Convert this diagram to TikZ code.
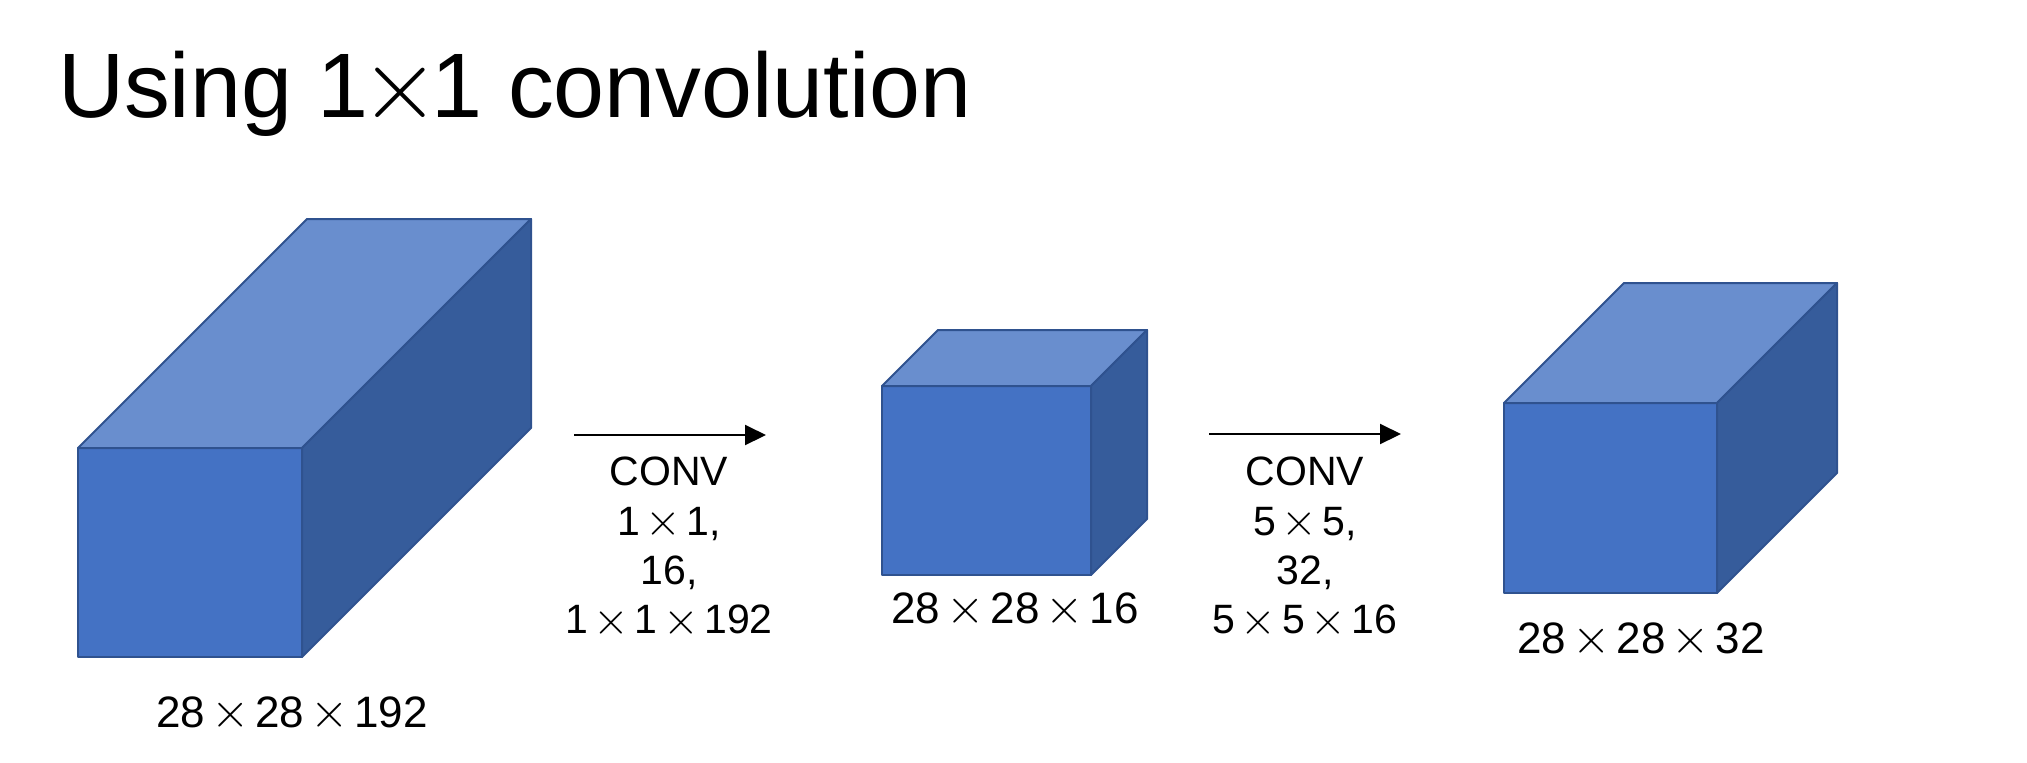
\documentclass[tikz,border=0pt]{standalone}
\usepackage{fontspec}
\setmainfont{Liberation Sans}
\newfontfamily\lmfont{lmroman10-regular}[Extension=.otf]
\usetikzlibrary{arrows.meta}

\definecolor{frontblue}{HTML}{4472C4}
\definecolor{topblue}{HTML}{698ECE}
\definecolor{sideblue}{HTML}{365C9B}
\definecolor{edgeblue}{HTML}{2F528F}

\newcommand{\tms}[1][1.14em]{\makebox[#1]{\raisebox{-0.02em}{\scalebox{1.12}{\lmfont ×}}}}

\begin{document}
\begin{tikzpicture}[x=0.5pt,y=-0.5pt]
        \tikzstyle{every path}=[line width=1pt, line join=round]

        \tikzstyle{front}=[draw=edgeblue, fill=frontblue, inner sep=0pt, outer sep=0pt, anchor=north west]
        \tikzstyle{topface}=[draw=edgeblue, fill=topblue]
        \tikzstyle{sideface}=[draw=edgeblue, fill=sideblue]
        \tikzstyle{dims}=[font=\fontsize{22}{26}\selectfont, anchor=base, inner sep=0pt]
        \tikzstyle{conv}=[font=\fontsize{20.5}{24.7}\selectfont, align=center, anchor=north, inner sep=0pt]
        \tikzstyle{flow}=[-{Triangle[length=10.5pt,width=10pt]}]

        \useasboundingbox (0,0) rectangle (2027,762);

        \node[anchor=base west, inner sep=0pt, font=\fontsize{45.8}{55}\selectfont] (title) at (57,117) {Using 1\tms[0.69em]1 convolution};

        % volumes: name / x / y / width / height / depth
        \foreach \name/\x/\y/\w/\h/\d in {in/78/448/224/209/229, mid/882/386/209/189/56, out/1504/403/213/190/120} {
            \node[front, minimum width=\w*0.5pt, minimum height=\h*0.5pt] (\name) at (\x,\y) {};
            \draw[topface] (\name.north west) -- ++(\d,-\d) -- ++(\w,0) -- (\name.north east) -- cycle;
            \draw[sideface] (\name.north east) -- ++(\d,-\d) -- ++(0,\h) -- (\name.south east) -- cycle;
        };

        \node[dims] (inlbl) at (292,727) {28\tms28\tms192};
        \node[dims] (midlbl) at (1015,623) {28\tms28\tms16};
        \node[dims] (outlbl) at (1641,653) {28\tms28\tms32};

        \coordinate (flow1s) at (574,435);
        \coordinate (flow1e) at (766,435);
        \coordinate (flow2s) at (1209,434);
        \coordinate (flow2e) at (1401,434);
        \draw[flow] (flow1s) -- (flow1e);   % in -> mid
        \draw[flow] (flow2s) -- (flow2e);   % mid -> out

        \node[conv] (conv1) at (669,456) {CONV\\1\tms1,\\16,\\1\tms1\tms192};
        \node[conv] (conv2) at (1305,456) {CONV\\5\tms5,\\32,\\5\tms5\tms16};

        \end{tikzpicture}
\end{document}
